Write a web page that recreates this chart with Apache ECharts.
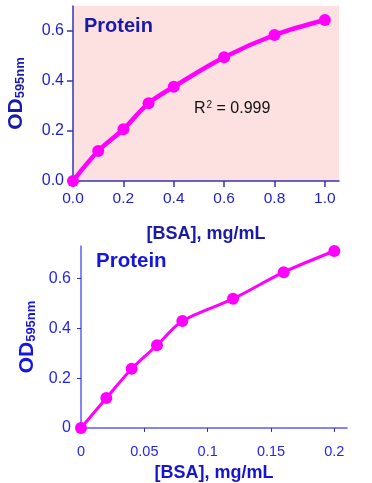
<!DOCTYPE html>
<html><head><meta charset="utf-8">
<script src="https://cdn.jsdelivr.net/npm/echarts@6/dist/echarts.min.js"></script>
<style>html,body{margin:0;padding:0;background:#fff}#c{width:372px;height:483px}</style>
</head><body><div id="c"></div>
<script>
// Top chart data (0–1.0 mg/mL)
var topX = [0, 0.1, 0.2, 0.3, 0.4, 0.6, 0.8, 1.0];
var topY = [0, 0.12, 0.207, 0.311, 0.377, 0.495, 0.584, 0.644];
var topXTicks = [0, 0.2, 0.4, 0.6, 0.8, 1.0];
var topYTicks = [0, 0.2, 0.4, 0.6];
// Bottom chart data (0–0.2 mg/mL)
var botX = [0, 0.02, 0.04, 0.06, 0.08, 0.12, 0.16, 0.2];
var botY = [0, 0.12, 0.238, 0.332, 0.429, 0.518, 0.625, 0.71];
var botXTicks = [0, 0.05, 0.1, 0.15, 0.2];
var botYTicks = [0, 0.2, 0.4, 0.6];
var topLabel = 'Protein';
var botLabel = 'Protein';
var r2Base = 'R', r2Sup = '2', r2Rest = ' = 0.999';
var xTitle = '[BSA], mg/mL';

function pairs(xs, ys){ return xs.map(function(x,i){ return [x, ys[i]]; }); }

var FONT = 'Liberation Sans, Arial, sans-serif';
var chart = echarts.init(document.getElementById('c'));
var yName = '{a|OD}{b|595nm}';
function yRich(col){ return { a:{fontSize:21,fontWeight:'bold',color:col,fontFamily:FONT},
  b:{fontSize:13,fontWeight:'bold',color:col,fontFamily:FONT,verticalAlign:'bottom',padding:[9,0,0,0]} }; }

chart.setOption({
  animation:false,
  textStyle:{fontFamily:FONT},
  grid:[
    {left:73, top:6, right:33, bottom:302, show:true, backgroundColor:'#fde0e0', borderWidth:0, containLabel:false, outerBoundsMode:'none'},
    {left:81, top:246, right:25, bottom:55, show:false, containLabel:false, outerBoundsMode:'none'}
  ],
  xAxis:[
    {gridIndex:0, type:'value', min:0, max:1.056,
     axisLine:{show:true, lineStyle:{color:'#3535b5', width:1.5}},
     axisTick:{show:true, length:6, customValues:topXTicks, lineStyle:{color:'#3535b5', width:1.5}},
     axisLabel:{customValues:topXTicks, margin:10, fontSize:15.5, color:'#1e1ec8', fontFamily:FONT,
       formatter:function(v){return v.toFixed(1);}},
     splitLine:{show:false},
     name:xTitle, nameLocation:'middle', nameGap:44,
     nameTextStyle:{fontSize:18, fontWeight:'bold', color:'#1a1aa8', fontFamily:FONT}},
    {gridIndex:1, type:'value', min:0, max:0.21,
     axisLine:{show:true, lineStyle:{color:'#5c5cf5', width:1.5}},
     axisTick:{show:true, length:4, customValues:botXTicks, lineStyle:{color:'#3030c0', width:1}},
     axisLabel:{customValues:botXTicks, margin:16, fontSize:14.5, color:'#2525f0', fontFamily:FONT,
       formatter:function(v){return String(Math.round(v*100)/100);}},
     splitLine:{show:false},
     name:xTitle, nameLocation:'middle', nameGap:36,
     nameTextStyle:{fontSize:18, fontWeight:'bold', color:'#1515d0', fontFamily:FONT}}
  ],
  yAxis:[
    {gridIndex:0, type:'value', min:0, max:0.7,
     axisLine:{show:true, lineStyle:{color:'#3535b5', width:1.5}},
     axisTick:{show:true, length:6, customValues:topYTicks, lineStyle:{color:'#3535b5', width:1.5}},
     axisLabel:{customValues:topYTicks, margin:9, fontSize:16, color:'#1e1ec8', fontFamily:FONT,
       formatter:function(v){return v.toFixed(1);}},
     splitLine:{show:false},
     name:yName, nameLocation:'middle', nameGap:46, nameRotate:90,
     nameTextStyle:{rich:yRich('#1a1aa8')}},
    {gridIndex:1, type:'value', min:0, max:0.73,
     axisLine:{show:true, lineStyle:{color:'#5c5cf5', width:1.5}},
     axisTick:{show:true, length:4, customValues:botYTicks, lineStyle:{color:'#3030c0', width:1}},
     axisLabel:{customValues:botYTicks, margin:10, fontSize:16, color:'#2525f0', fontFamily:FONT,
       formatter:function(v){return String(v);}},
     splitLine:{show:false},
     name:yName, nameLocation:'middle', nameGap:35, nameRotate:90,
     nameTextStyle:{rich:yRich('#1515e0')}}
  ],
  graphic:[
    {type:'text', left:84, top:16, style:{text:topLabel, font:'bold 20px '+FONT, fill:'#1a1aa8'}},
    {type:'text', left:96, top:251, style:{text:botLabel, font:'bold 20.5px '+FONT, fill:'#1515e0'}},
    {type:'text', left:194, top:100, style:{text:'{r|'+r2Base+'}{s|'+r2Sup+'}{r|'+r2Rest+'}',
      rich:{r:{fontSize:16, fontFamily:FONT, fill:'#111', color:'#111'},
            s:{fontSize:10, fontFamily:FONT, fill:'#111', color:'#111', verticalAlign:'top', padding:[0,0,8,1]}}}}
  ],
  series:[
    {type:'line', xAxisIndex:0, yAxisIndex:0, data:pairs(topX, topY), smooth:0.35,
     symbol:'circle', symbolSize:12, showAllSymbol:true,
     lineStyle:{color:'#ff00ff', width:4.5}, itemStyle:{color:'#ff00ff'}},
    {type:'line', xAxisIndex:1, yAxisIndex:1, data:pairs(botX, botY), smooth:0.3,
     symbol:'circle', symbolSize:12, showAllSymbol:true,
     lineStyle:{color:'#ff00ff', width:3}, itemStyle:{color:'#ff00ff'}}
  ]
});
</script></body></html>
